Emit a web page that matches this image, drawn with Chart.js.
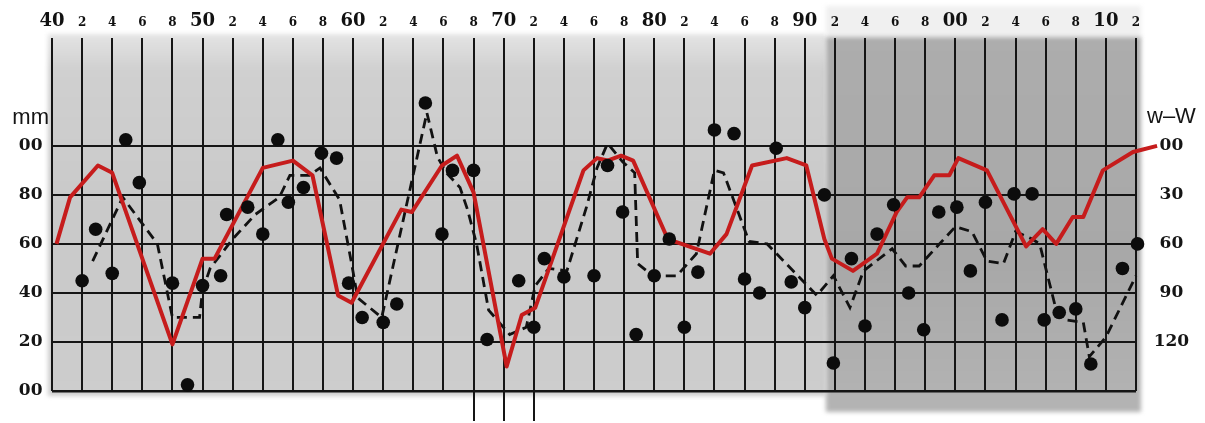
<!DOCTYPE html>
<html>
<head>
<meta charset="utf-8">
<script src="https://cdn.jsdelivr.net/npm/chart.js@4.4.1/dist/chart.umd.min.js"></script>
<style>
  html, body { margin: 0; padding: 0; background: #ffffff; }
  #wrap { width: 1205px; height: 423px; position: relative; }
</style>
</head>
<body>
<div id="wrap"><canvas id="chart" width="1205" height="423"></canvas></div>
<script>
// Annual observations (mm), shown as dots
const dotYears = [1942.0, 1942.9, 1944.0, 1944.9, 1945.8, 1948.0, 1949.0, 1950.0, 1951.2, 1951.6,
  1953.0, 1954.0, 1955.0, 1955.7, 1956.7, 1957.9, 1958.9, 1959.7, 1960.6, 1962.0,
  1962.9, 1964.8, 1965.9, 1966.6, 1968.0, 1968.9, 1970.0, 1971.0, 1972.0, 1972.7,
  1974.0, 1976.0, 1976.9, 1977.9, 1978.8, 1980.0, 1981.0, 1982.0, 1982.9, 1984.0,
  1985.3, 1986.0, 1987.0, 1988.1, 1989.1, 1990.0, 1991.3, 1991.9, 1993.1, 1994.0,
  1994.8, 1995.9, 1996.9, 1997.9, 1998.9, 2000.1, 2001.0, 2002.0, 2003.1, 2003.9,
  2005.1, 2005.9, 2006.9, 2008.0, 2009.0, 2011.1, 2012.1, 2013.2];
const dotValues = [45, 66, 48, 102.5, 85, 44, 2.5, 43, 47, 72,
  75, 64, 102.5, 77, 83, 97, 95, 44, 30, 28,
  35.5, 117.5, 64, 90, 90, 21, -7, 45, 26, 54,
  46.5, 47, 92, 73, 23, 47, 62, 26, 48.5, 106.5,
  105, 45.7, 40, 99, 44.5, 34, 80, 11.4, 54, 26.5,
  64, 76, 40, 25, 73, 75, 49, 77, 29, 80.4,
  80.4, 29, 32, 33.5, 11, 50, 60, 45];

// Red curve (mm, left scale)
const redYears = [1940.3, 1941.2, 1943.05, 1944.0, 1948.0, 1950.0, 1950.8, 1954.0, 1956.0, 1957.3,
  1959.0, 1959.9, 1963.2, 1963.9, 1965.9, 1966.9, 1968.0, 1970.2, 1971.2, 1972.1,
  1975.3, 1976.2, 1976.9, 1977.8, 1978.6, 1980.9, 1983.7, 1984.8, 1986.5, 1988.8,
  1990.1, 1991.3, 1991.8, 1993.2, 1994.8, 1996.1, 1996.8, 1997.6, 1998.6, 1999.6,
  2000.2, 2002.1, 2004.7, 2005.8, 2006.7, 2007.8, 2008.5, 2009.8, 2011.8, 2013.4];
const redValues = [60, 79, 92, 89, 19, 54, 54, 91, 94, 88,
  39, 36, 74, 73, 92, 96, 81, 10, 31, 34,
  90, 95, 94, 96, 94, 62, 56, 64, 92, 95,
  92, 62, 54, 49, 56, 73, 79, 79, 88, 88,
  95, 90, 59, 66, 60, 71, 71, 90, 97.5, 100];

// Dashed curve (mm, left scale)
const dashYears = [1942.7, 1944.7, 1947.0, 1948.0, 1949.8, 1950.0, 1950.5, 1952.0, 1953.5, 1955.1,
  1955.8, 1957.1, 1957.8, 1959.1, 1959.9, 1960.3, 1961.9, 1964.9, 1965.6, 1966.2,
  1967.1, 1967.6, 1968.2, 1969.0, 1970.4, 1971.5, 1972.1, 1973.0, 1974.2, 1975.5,
  1976.2, 1976.9, 1977.9, 1978.7, 1978.9, 1979.9, 1981.5, 1982.8, 1984.0, 1984.6,
  1986.3, 1987.5, 1990.8, 1991.9, 1993.0, 1993.9, 1995.8, 1996.7, 1997.6, 2000.0,
  2001.1, 2002.1, 2003.2, 2004.0, 2005.1, 2005.6, 2006.7, 2007.3, 2008.5, 2008.9,
  2010.0, 2012.0];
const dashValues = [53, 79, 60, 30, 30, 41, 50, 62, 72, 79,
  88, 88, 91, 78, 52, 38, 30, 113.5, 95.5, 89,
  83, 74, 60, 33, 23, 26, 43, 50, 49, 75,
  91, 101, 93.5, 89, 52, 47, 47, 56, 90, 89,
  61, 60, 39, 47, 34, 49, 58, 51, 51, 67,
  65, 53, 52, 65, 62, 60, 33, 29, 28, 14,
  22, 47];

// Axis labels
const firstTickYear = 1940, tickStep = 2;
const topTickLabels = ['40', '2', '4', '6', '8', '50', '2', '4', '6', '8',
  '60', '2', '4', '6', '8', '70', '2', '4', '6', '8',
  '80', '2', '4', '6', '8', '90', '2', '4', '6', '8',
  '00', '2', '4', '6', '8', '10', '2'];
const leftTicks = [0, 20, 40, 60, 80, 100];
const leftLabels = ['00', '20', '40', '60', '80', '00'];
const rightTicks = [0, 30, 60, 90, 120];
const rightLabels = ['00', '30', '60', '90', '120'];
const leftUnit = 'mm', leftUnitAt = 111.2;
const rightUnit = 'w\u2013W', rightUnitAt = -17.7;

// Years whose grid lines run below the frame, and start of the shaded panel
const markerYears = [1968, 1970, 1972];
const shadedFrom = 1991.4;

const pts = (xs, ys) => xs.map((x, i) => ({ x: x, y: ys[i] }));
const gridInk = '#151515';
const digitFont = (size, lh) => ({ family: "'DejaVu Serif', serif", weight: 'bold', size: size, lineHeight: lh });
const unitFont = { family: "'Liberation Sans', Arial, sans-serif", weight: 'normal', size: 22, lineHeight: 1.2 };

const backdrop = {
  id: 'backdrop',
  beforeDraw(chart) {
    const { ctx, chartArea: a, scales } = chart;
    const xs = scales.x;
    const split = xs.getPixelForValue(shadedFrom);
    const right = xs.getPixelForValue(2012) + 5;
    ctx.save();
    ctx.fillStyle = '#ffffff';
    ctx.fillRect(0, 0, chart.width, chart.height);
    ctx.filter = 'blur(2px)';
    // light panel
    const g = ctx.createLinearGradient(0, a.top - 4, 0, a.bottom + 5);
    g.addColorStop(0, '#e4e4e4');
    g.addColorStop(0.1, '#d0d0d0');
    g.addColorStop(0.5, '#c9c9c9');
    g.addColorStop(1, '#cdcdcd');
    ctx.fillStyle = g;
    ctx.fillRect(a.left - 4, a.top - 4, split - a.left + 4, a.bottom - a.top + 9);
    // darker panel
    ctx.fillStyle = '#f0f0f0';
    ctx.fillRect(split, 6, right - split, a.top - 6);
    const g2 = ctx.createLinearGradient(0, a.top, 0, a.bottom + 21);
    g2.addColorStop(0, '#adadad');
    g2.addColorStop(0.6, '#a8a8a8');
    g2.addColorStop(1, '#b4b4b4');
    ctx.fillStyle = g2;
    ctx.fillRect(split, a.top - 1, right - split, a.bottom - a.top + 22);
    ctx.restore();
  },
  beforeDatasetsDraw(chart) {
    const { ctx, chartArea: a, scales } = chart;
    ctx.save();
    ctx.strokeStyle = gridInk;
    ctx.lineWidth = 2;
    markerYears.forEach(yr => {
      const px = Math.round(scales.x.getPixelForValue(yr));
      ctx.beginPath();
      ctx.moveTo(px, a.bottom);
      ctx.lineTo(px, a.bottom + 30);
      ctx.stroke();
    });
    ctx.restore();
  }
};

new Chart(document.getElementById('chart'), {
  type: 'scatter',
  data: {
    datasets: [
      {
        data: pts(dotYears, dotValues),
        yAxisID: 'y',
        showLine: false,
        pointRadius: 6.8,
        pointBackgroundColor: '#0c0c0c',
        pointBorderWidth: 0,
        clip: false
      },
      {
        data: pts(redYears, redValues),
        yAxisID: 'y',
        showLine: true,
        borderColor: '#c61c1c',
        borderWidth: 4,
        borderJoinStyle: 'round',
        pointRadius: 0,
        tension: 0,
        clip: false
      },
      {
        data: pts(dashYears, dashValues),
        yAxisID: 'y',
        showLine: true,
        borderColor: '#111111',
        borderWidth: 2.8,
        borderDash: [10, 6],
        pointRadius: 0,
        tension: 0,
        clip: false
      }
    ]
  },
  options: {
    responsive: false,
    animation: false,
    devicePixelRatio: 1,
    layout: { padding: { left: 0, right: 0, top: 0, bottom: 32 } },
    plugins: { legend: { display: false }, tooltip: { enabled: false } },
    scales: {
      x: {
        type: 'linear',
        position: 'top',
        min: 1940,
        max: 2012,
        afterBuildTicks: s => { s.ticks = topTickLabels.map((_, i) => ({ value: firstTickYear + i * tickStep })); },
        afterFit: s => { s.height = 38; },
        border: { display: false },
        grid: { color: gridInk, lineWidth: 2, drawTicks: false },
        ticks: {
          autoSkip: false,
          maxRotation: 0,
          padding: 6,
          color: '#111111',
          callback: (v, i) => topTickLabels[i],
          font: ctx => topTickLabels[ctx.index] && topTickLabels[ctx.index].length > 1 ? digitFont(18, 1.2) : digitFont(12, 1.45)
        }
      },
      y: {
        type: 'linear',
        position: 'left',
        min: 0,
        max: 144,
        afterBuildTicks: s => { s.ticks = leftTicks.concat([leftUnitAt]).map(v => ({ value: v })); },
        afterFit: s => { s.width = 52; },
        border: { display: false },
        grid: {
          drawTicks: false,
          color: ctx => ctx.tick && ctx.tick.value === leftUnitAt ? 'rgba(0,0,0,0)' : gridInk,
          lineWidth: ctx => ctx.tick && ctx.tick.value === 0 ? 2.5 : 2
        },
        ticks: {
          crossAlign: 'center',
          padding: 3,
          color: '#151515',
          callback: v => v === leftUnitAt ? leftUnit : leftLabels[leftTicks.indexOf(v)],
          font: ctx => ctx.tick && ctx.tick.value === leftUnitAt ? unitFont : digitFont(17, 1.2)
        }
      },
      y2: {
        type: 'linear',
        position: 'right',
        reverse: true,
        min: -66,
        max: 150,
        afterBuildTicks: s => { s.ticks = [rightUnitAt].concat(rightTicks).map(v => ({ value: v })); },
        afterFit: s => { s.width = 69; },
        border: { display: false },
        grid: { display: false, drawTicks: false },
        ticks: {
          crossAlign: 'center',
          padding: 11,
          color: '#151515',
          callback: v => v === rightUnitAt ? rightUnit : rightLabels[rightTicks.indexOf(v)],
          font: ctx => ctx.tick && ctx.tick.value === rightUnitAt ? unitFont : digitFont(17, 1.2)
        }
      }
    }
  },
  plugins: [backdrop]
});
</script>
</body>
</html>
